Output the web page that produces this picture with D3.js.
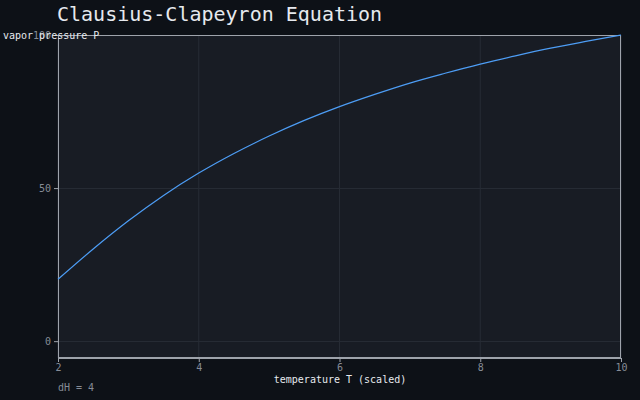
<!DOCTYPE html>
<html><head><meta charset="utf-8">
<script src="https://cdn.jsdelivr.net/npm/d3@7"></script>
<style>
html,body{margin:0;padding:0;background:#0d1117;}
svg{display:block;}
text{font-family:"DejaVu Sans Mono",monospace;}
</style></head>
<body>
<svg id="c" width="640" height="400"></svg>
<script>
const temperature = [2,2.5,3,3.5,4,4.5,5,5.5,6,6.5,7,7.5,8,8.5,9,9.5,10];
const pressure = [20.2,30.1,39.3,47.6,54.9,61.3,67.0,72.1,76.6,80.6,84.3,87.5,90.5,93.2,95.7,97.9,100];
const xTicks = [2,4,6,8,10];
const yTicks = [0,50,100];
const titleText = "Clausius-Clapeyron Equation";
const xLabel = "temperature T (scaled)";
const yLabel = "vapor pressure P";
const note = "dH = 4";

const svg = d3.select("#c");
const L=58,R=621,T=35,B=358;
const x = d3.scaleLinear().domain([2,10]).range([L,R]);
const y = d3.scaleLinear().domain([-5.5,100]).range([B,T]);

svg.append("rect").attr("x",L).attr("y",T).attr("width",R-L).attr("height",B-T).attr("fill","#181c24");

// grid
svg.append("g").selectAll("line").data(xTicks).join("line")
  .attr("x1",d=>x(d)).attr("x2",d=>x(d)).attr("y1",T).attr("y2",B)
  .attr("stroke","#262b34").attr("stroke-width",1);
svg.append("g").selectAll("line").data(yTicks).join("line")
  .attr("x1",L).attr("x2",R).attr("y1",d=>Math.round(y(d))+0.5).attr("y2",d=>Math.round(y(d))+0.5)
  .attr("stroke","#262b34").attr("stroke-width",1);

// frame
svg.append("rect").attr("x",L+0.5).attr("y",T+0.5).attr("width",R-L-1).attr("height",B-T-1)
  .attr("fill","none").attr("stroke","#9ea3ab").attr("stroke-width",1);

const xa = svg.append("g").attr("transform",`translate(0,${B})`)
  .call(d3.axisBottom(x).tickValues(xTicks).tickSize(4).tickPadding(2).tickSizeOuter(0).tickFormat(d3.format("d")));
const ya = svg.append("g").attr("transform",`translate(${L},0)`)
  .call(d3.axisLeft(y).tickValues(yTicks).tickSize(4).tickSizeOuter(0).tickFormat(d3.format("d")));
[xa,ya].forEach(a=>{
  a.select(".domain").attr("stroke","#9ea3ab");
  a.selectAll(".tick line").attr("stroke","#9ea3ab");
  a.selectAll(".tick text").attr("fill","#868c96").attr("font-size",10).attr("font-family","DejaVu Sans Mono, monospace");
});

const line = d3.line().x((d,i)=>x(temperature[i])).y(d=>y(d)).curve(d3.curveMonotoneX);
svg.append("path").datum(pressure).attr("d",line).attr("fill","none")
  .attr("stroke","#4d9df5").attr("stroke-width",1.2);

svg.append("text").attr("x",57).attr("y",21).attr("fill","#e6e9ee").attr("font-size",20).text(titleText);
svg.append("text").attr("x",340).attr("y",383).attr("text-anchor","middle").attr("fill","#e6e9ee").attr("font-size",10).text(xLabel);
svg.append("text").attr("x",3).attr("y",39).attr("fill","#e6e9ee").attr("font-size",10).text(yLabel);
svg.append("text").attr("x",58).attr("y",391).attr("fill","#868c96").attr("font-size",10).text(note);
</script>
</body></html>
